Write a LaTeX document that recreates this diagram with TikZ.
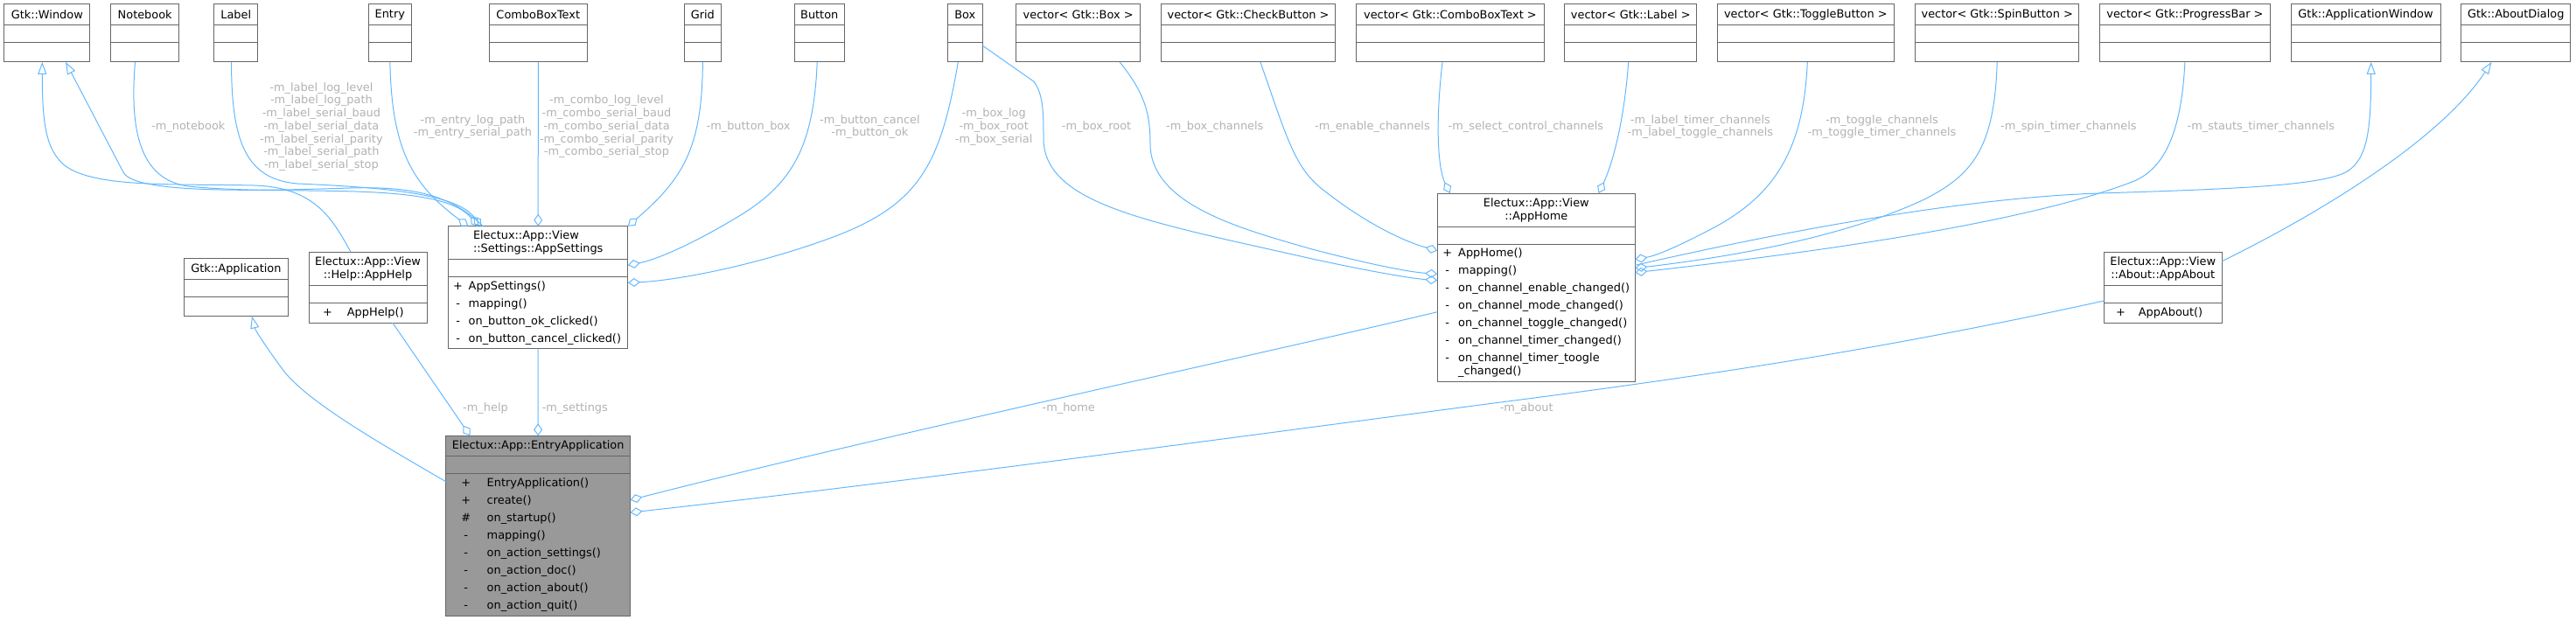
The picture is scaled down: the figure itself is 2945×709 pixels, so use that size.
\documentclass[tikz,border=0pt]{standalone}
\usepackage{fontspec}
\setmainfont{DejaVu Sans}
\usetikzlibrary{positioning,arrows.meta}
\definecolor{edgeblue}{RGB}{99,184,255}
\definecolor{boxgray}{RGB}{102,102,102}
\definecolor{focusgray}{RGB}{153,153,153}
\definecolor{lblgray}{RGB}{178,178,178}
\newcommand{\umlsize}{\fontsize{12.9}{15}\selectfont}
\newcommand{\opsize}{\fontsize{12.9}{20}\selectfont}
\newcommand{\lblsize}{\fontsize{12.9}{14.7}\selectfont}
\newlength{\umlsym}
\newcommand{\umlop}[2]{\makebox[\umlsym][c]{#1}\hspace{5pt}#2}
\newcommand{\emptyrows}[2]{%
  \node[attrrow, minimum width=#2, below=0pt of #1] (#1-a) {};
  \node[attrrow, minimum width=#2, minimum height=22.4pt, below=0pt of #1-a] (#1-m) {};
}

\begin{document}
\begin{tikzpicture}[x=1pt, y=-1pt,
  clshead/.style={draw=boxgray, fill=white, line width=1pt, outer sep=0pt, inner sep=2pt, minimum height=23.5pt, align=center, font=\umlsize, anchor=north west},
  attrrow/.style={draw=boxgray, fill=white, line width=1pt, outer sep=0pt, inner sep=0pt, minimum height=20pt},
  oprow/.style={draw=boxgray, fill=white, line width=1pt, outer sep=0pt, inner xsep=4pt, inner ysep=2pt, align=left},
  lbl/.style={text=lblgray, font=\lblsize, align=center, inner sep=0pt},
  agg/.style={draw=edgeblue, line width=1pt, -{Diamond[open, length=14pt, width=10pt]}},
  inherit/.style={draw=edgeblue, line width=1pt, -{Triangle[open, length=14pt, width=10pt]}},
]
\useasboundingbox (0,0) rectangle (2945,709);

\node[clshead, minimum width=98pt] (win) at (4.8,5) {Gtk::Window};
\emptyrows{win}{98pt}
\node[clshead, minimum width=78pt, right=23.9pt of win] (notebook) {Notebook};
\emptyrows{notebook}{78pt}
\node[clshead, minimum width=49.7pt, right=40.2pt of notebook] (label) {Label};
\emptyrows{label}{49.7pt}
\node[clshead, minimum width=48.8pt, right=126.8pt of label] (entry) {Entry};
\emptyrows{entry}{48.8pt}
\node[clshead, minimum width=112.4pt, right=88.9pt of entry] (combo) {ComboBoxText};
\emptyrows{combo}{112.4pt}
\node[clshead, minimum width=41.3pt, right=111.2pt of combo] (grid) {Grid};
\emptyrows{grid}{41.3pt}
\node[clshead, minimum width=57.1pt, right=84.2pt of grid] (button) {Button};
\emptyrows{button}{57.1pt}
\node[clshead, minimum width=39.3pt, right=118.4pt of button] (box) {Box};
\emptyrows{box}{39.3pt}
\node[clshead, minimum width=141.9pt, right=38.7pt of box] (vbox) {vector< Gtk::Box >};
\emptyrows{vbox}{141.9pt}
\node[clshead, minimum width=198.9pt, right=24pt of vbox] (vcheck) {vector< Gtk::CheckButton >};
\emptyrows{vcheck}{198.9pt}
\node[clshead, minimum width=214.8pt, right=24pt of vcheck] (vcombo) {vector< Gtk::ComboBoxText >};
\emptyrows{vcombo}{214.8pt}
\node[clshead, minimum width=151pt, right=23.5pt of vcombo] (vlabel) {vector< Gtk::Label >};
\emptyrows{vlabel}{151pt}
\node[clshead, minimum width=202pt, right=23.5pt of vlabel] (vtoggle) {vector< Gtk::ToggleButton >};
\emptyrows{vtoggle}{202pt}
\node[clshead, minimum width=186.9pt, right=24.5pt of vtoggle] (vspin) {vector< Gtk::SpinButton >};
\emptyrows{vspin}{186.9pt}
\node[clshead, minimum width=194.8pt, right=23.8pt of vspin] (vprog) {vector< Gtk::ProgressBar >};
\emptyrows{vprog}{194.8pt}
\node[clshead, minimum width=171pt, right=23.7pt of vprog] (appwin) {Gtk::ApplicationWindow};
\emptyrows{appwin}{171pt}
\node[clshead, minimum width=125pt, right=23.8pt of appwin] (aboutdlg) {Gtk::AboutDialog};
\emptyrows{aboutdlg}{125pt}

\node[clshead, minimum width=119.2pt] (gtkapp) at (210.3,295.7) {Gtk::Application};
\emptyrows{gtkapp}{119.2pt}

\node[clshead, minimum width=134.9pt, minimum height=38pt] (help) at (353.1,288.3) {Electux::App::View\\::Help::AppHelp};
\node[attrrow, minimum width=134.9pt, below=0pt of help] (help-a) {};
\node[oprow, text width=126.9pt, minimum height=22.7pt, font={\opsize\setlength{\umlsym}{34.8pt}}, below=0pt of help-a] (help-m) {\umlop{+}{AppHelp()}};

\node[clshead, minimum width=205.4pt, minimum height=38pt, align=left] (settings) at (512.5,258.7) {Electux::App::View\\::Settings::AppSettings};
\node[attrrow, minimum width=205.4pt, below=0pt of settings] (settings-a) {};
\node[oprow, text width=197.4pt, minimum height=82pt, font={\opsize\setlength{\umlsym}{14.2pt}}, below=0pt of settings-a] (settings-m) {\umlop{+}{AppSettings()}\\\umlop{-}{mapping()}\\\umlop{-}{on\_button\_ok\_clicked()}\\\umlop{-}{on\_button\_cancel\_clicked()}};

\node[clshead, fill=focusgray, minimum width=210.7pt] (app) at (509.8,498.3) {Electux::App::EntryApplication};
\node[attrrow, fill=focusgray, minimum width=210.7pt, below=0pt of app] (app-a) {};
\node[oprow, fill=focusgray, text width=202.7pt, minimum height=162.3pt, font={\opsize\setlength{\umlsym}{37.9pt}}, below=0pt of app-a] (app-m) {\umlop{+}{EntryApplication()}\\\umlop{+}{create()}\\\umlop{\#}{on\_startup()}\\\umlop{-}{mapping()}\\\umlop{-}{on\_action\_settings()}\\\umlop{-}{on\_action\_doc()}\\\umlop{-}{on\_action\_about()}\\\umlop{-}{on\_action\_quit()}};

\node[clshead, minimum width=226pt, minimum height=38.3pt] (home) at (1643.3,221) {Electux::App::View\\::AppHome};
\node[attrrow, minimum width=226pt, below=0pt of home] (home-a) {};
\node[oprow, text width=218pt, minimum height=157pt, font={\opsize\setlength{\umlsym}{14.9pt}}, below=0pt of home-a] (home-m) {\umlop{+}{AppHome()}\\\umlop{-}{mapping()}\\\umlop{-}{on\_channel\_enable\_changed()}\\\umlop{-}{on\_channel\_mode\_changed()}\\\umlop{-}{on\_channel\_toggle\_changed()}\\\umlop{-}{on\_channel\_timer\_changed()}\\\umlop{-}{on\_channel\_timer\_toogle}\\[-5pt]\umlop{}{\_changed()}};

\node[clshead, minimum width=134.9pt, minimum height=38pt] (about) at (2405.3,288.7) {Electux::App::View\\::About::AppAbout};
\node[attrrow, minimum width=134.9pt, below=0pt of about] (about-a) {};
\node[oprow, text width=126.9pt, minimum height=22.7pt, font={\opsize\setlength{\umlsym}{30.5pt}}, below=0pt of about-a] (about-m) {\umlop{+}{AppAbout()}};

\draw[inherit] ([xshift=-63pt]settings.north) .. controls (515,222) and (470,213) .. (400,215) .. controls (250,220) and (152,218) .. (141,197) -- ([xshift=21.3pt]win-m.south);
\draw[inherit] ([xshift=-19.5pt]help.north) .. controls (380,250) and (360,214) .. (290,212) .. controls (200,210) and (110,215) .. (75,190) .. controls (52,172) and (48.3,140) .. ([xshift=-5.5pt]win-m.south);
\draw[inherit] ([yshift=-9pt]app-m.north west) .. controls (440,510) and (355,462) .. (325,425) .. controls (305,398) and (292,378) .. ([xshift=18.1pt]gtkapp-m.south);
\draw[inherit] ([yshift=-24pt]home-m.north east) .. controls (2050,262) and (2250,226) .. (2400,221) .. controls (2560,216) and (2660,212) .. (2685,195) .. controls (2706,180) and (2710.7,150) .. ([xshift=6.2pt]appwin-m.south);
\draw[inherit] ([yshift=9pt]about.east) .. controls (2650,245) and (2790,160) .. ([xshift=-27.8pt]aboutdlg-m.south);

\draw[agg] ([xshift=-11.2pt]notebook-m.south) .. controls (148,150) and (160,205) .. (215,213) .. controls (330,225) and (500,205) .. ([xshift=-68pt]settings.north);
\draw[agg] ([xshift=-5.2pt]label-m.south) .. controls (264.6,160) and (280,205) .. (340,210) .. controls (430,214) and (520,220) .. ([xshift=-65pt]settings.north);
\draw[agg] (entry-m.south) .. controls (448,170) and (470,210) .. ([xshift=-80pt]settings.north);
\draw[agg] (combo-m.south) -- (settings.north);
\draw[agg] (grid-m.south) .. controls (803,170) and (780,205) .. (settings.north east);
\draw[agg] ([xshift=-2.5pt]button-m.south) .. controls (930,170) and (905,212) .. (840,250) .. controls (790,280) and (750,297) .. ([yshift=3.4pt]settings-a.east);
\draw[agg] ([xshift=-8pt]box-m.south) .. controls (1075,190) and (1050,235) .. (950,272) .. controls (860,305) and (770,321) .. ([yshift=-6.6pt]settings-m.north east);
\draw[agg] ([yshift=7.8pt]box-m.east) -- (1182,93.3) .. controls (1193,108) and (1193,130) .. (1193,160) .. controls (1195,235) and (1320,255) .. (1500,296) .. controls (1565,310) and (1610,318) .. ([yshift=-41.4pt]home-m.north west);
\draw[agg] ([xshift=47.4pt]vbox-m.south) .. controls (1312,110) and (1315,135) .. (1315,167) .. controls (1318,235) and (1420,262) .. (1500,285) .. controls (1565,302) and (1610,311) .. ([yshift=-34pt]home-m.north west);
\draw[agg] ([xshift=13.8pt]vcheck-m.south) .. controls (1472,160) and (1480,190) .. (1510,215) .. controls (1560,255) and (1605,276) .. ([yshift=-7.4pt]home-m.north west);
\draw[agg] ([xshift=-8.9pt]vcombo-m.south) .. controls (1640,150) and (1645,195) .. ([xshift=-98.6pt]home.north);
\draw[agg] ([xshift=-2.6pt]vlabel-m.south) .. controls (1856,150) and (1840,195) .. ([xshift=71.3pt]home.north);
\draw[agg] ([xshift=2pt]vtoggle-m.south) .. controls (2062,170) and (2030,222) .. (1960,260) .. controls (1920,281) and (1895,292) .. ([yshift=-17.4pt]home-m.north east);
\draw[agg] (vspin-m.south) .. controls (2280,170) and (2255,200) .. (2200,228) .. controls (2100,275) and (1960,296) .. ([yshift=-27.4pt]home-m.north east);
\draw[agg] (vprog-m.south) .. controls (2494,150) and (2475,192) .. (2440,207) .. controls (2300,262) and (2000,297) .. ([yshift=-32.4pt]home-m.north east);
\draw[agg] ([xshift=28.2pt]help-m.south) -- ([xshift=-77.7pt]app.north);
\draw[agg] (settings-m.south) -- (app.north);
\draw[agg] ([yshift=-77.4pt]home-m.north west) .. controls (1450,403) and (1000,500) .. ([yshift=-30pt]app-m.north east);
\draw[agg] ([yshift=-7.3pt]about-a.west) .. controls (2150,400) and (1950,430) .. (1700,462) .. controls (1300,515) and (1000,555) .. ([yshift=-44.3pt]app-m.north east);

\node[lbl] (l-notebook) at (215.3,145) {-m\_notebook};
\node[lbl] (l-label) at (367.4,145) {-m\_label\_log\_level\\-m\_label\_log\_path\\-m\_label\_serial\_baud\\-m\_label\_serial\_data\\-m\_label\_serial\_parity\\-m\_label\_serial\_path\\-m\_label\_serial\_stop};
\node[lbl] (l-entry) at (540.5,145) {-m\_entry\_log\_path\\-m\_entry\_serial\_path};
\node[lbl] (l-combo) at (693.5,145) {-m\_combo\_log\_level\\-m\_combo\_serial\_baud\\-m\_combo\_serial\_data\\-m\_combo\_serial\_parity\\-m\_combo\_serial\_stop};
\node[lbl] (l-grid) at (855.6,145) {-m\_button\_box};
\node[lbl] (l-button) at (994.4,145) {-m\_button\_cancel\\-m\_button\_ok};
\node[lbl] (l-boxset) at (1136.2,145) {-m\_box\_log\\-m\_box\_root\\-m\_box\_serial};
\node[lbl] (l-boxhome) at (1253.6,145) {-m\_box\_root};
\node[lbl] (l-vbox) at (1388.8,145) {-m\_box\_channels};
\node[lbl] (l-vcheck) at (1568.9,145) {-m\_enable\_channels};
\node[lbl] (l-vcombo) at (1744.4,145) {-m\_select\_control\_channels};
\node[lbl] (l-vlabel) at (1943.9,145) {-m\_label\_timer\_channels\\-m\_label\_toggle\_channels};
\node[lbl] (l-vtoggle) at (2151.5,145) {-m\_toggle\_channels\\-m\_toggle\_timer\_channels};
\node[lbl] (l-vspin) at (2364.8,145) {-m\_spin\_timer\_channels};
\node[lbl] (l-vprog) at (2584.8,145) {-m\_stauts\_timer\_channels};
\node[lbl] (l-help) at (555,466.7) {-m\_help};
\node[lbl] (l-settings) at (657.3,466.7) {-m\_settings};
\node[lbl] (l-home) at (1221.7,466.7) {-m\_home};
\node[lbl] (l-about) at (1745.2,466.7) {-m\_about};
\end{tikzpicture}
\end{document}
